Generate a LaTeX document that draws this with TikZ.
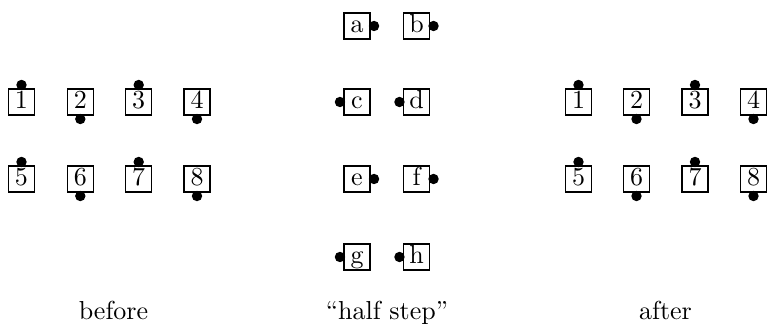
\documentclass[tikz,border=0pt]{standalone}
\usetikzlibrary{positioning}
\begin{document}
\begin{tikzpicture}[x={(0.3846pt,0)},y={(0,-0.3846pt)},
  cell/.style={draw,line width=0.5pt,inner sep=0pt,minimum width=10pt,minimum height=10pt,text height=7pt,text depth=2pt},
  dot/.style={circle,fill,inner sep=0pt,minimum size=4pt},
  caption/.style={anchor=base}]
\useasboundingbox (0,0) rectangle (768,324);
% before
\foreach \n/\x/\y in {1/21.5/102,2/80.3/102,3/138.7/102,4/197/102,5/21.5/179,6/80.3/179,7/138.7/179,8/197/179}{
  \node[cell] (L\n) at (\x,\y) {\n};
}
% after
\foreach \n/\x/\y in {1/578.5/102,2/636.5/102,3/695/102,4/753.5/102,5/578.5/179,6/636.5/179,7/695/179,8/753.5/179}{
  \node[cell] (R\n) at (\x,\y) {\n};
}
\foreach \g in {L,R}{
  \foreach \n in {1,3,5,7}{\node[dot,above=-0.9pt of \g\n] (\g d\n) {};}
  \foreach \n in {2,4,6,8}{\node[dot,below=-0.9pt of \g\n] (\g d\n) {};}
}
% half step
\node[cell] (a) at (357,26) {a};
\node[cell] (b) at (416.5,26) {b};
\node[cell] (c) at (357,102) {c};
\node[cell] (d) at (416.5,102) {d};
\node[cell] (e) at (357,179) {e};
\node[cell] (f) at (416.5,179) {f};
\node[cell] (g) at (357,257) {g};
\node[cell] (h) at (416.5,257) {h};
\foreach \n in {a,b,e,f}{\node[dot,right=-0.9pt of \n] (d\n) {};}
\foreach \n in {c,d,g,h}{\node[dot,left=-0.9pt of \n] (d\n) {};}
% captions
\node[caption] (cb) at (113.5,320) {before};
\node[caption] (ch) at (387,320) {``half step''};
\node[caption] (ca) at (665.5,320) {after};
\end{tikzpicture}
\end{document}
